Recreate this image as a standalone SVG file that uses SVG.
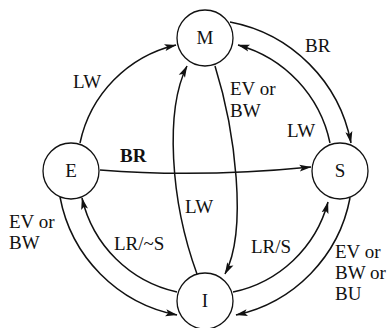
<svg xmlns="http://www.w3.org/2000/svg" width="390" height="328" viewBox="0 0 390 328">
<style>
.e{fill:none;stroke:#111;stroke-width:1.5;marker-end:url(#ah)}
.n circle{fill:#fff;stroke:#111;stroke-width:1.3}
text{font-family:"Liberation Serif","Times New Roman",serif;font-size:19px;fill:#111}
.n text{text-anchor:middle}
.b{font-weight:bold}
</style>
<defs>
<marker id="ah" viewBox="0 0 12 8" refX="11.5" refY="4" markerWidth="12" markerHeight="8" markerUnits="userSpaceOnUse" orient="auto">
<path d="M0,0.5 L12,4 L0,7.5 L2.5,4 Z" fill="#111"/>
</marker>
</defs>
<rect width="390" height="328" fill="#fff"/>
<g id="connectors">
<path class="e" d="M80,143 A128,128 0 0 1 176,45"/>
<path class="e" d="M197,274 C170,200 165,110 187,66"/>
<path class="e" d="M215,66 C235,130 248,230 225,274"/>
<path class="e" d="M230,22 A152,152 0 0 1 351,143"/>
<path class="e" d="M330,143 A129,129 0 0 0 238,45"/>
<path class="e" d="M100,170 Q200,178 311,167"/>
<path class="e" d="M177,292 A125,125 0 0 1 82,198"/>
<path class="e" d="M60,197 A148,148 0 0 0 177,315"/>
<path class="e" d="M233,292 A125,125 0 0 0 328,202"/>
<path class="e" d="M350,198 A148,148 0 0 1 236,315"/>
</g>
<g id="labels">
<text x="73" y="88">LW</text>
<text x="120" y="162" class="b">BR</text>
<text x="230" y="95">EV or</text>
<text x="230" y="117">BW</text>
<text x="305" y="52">BR</text>
<text x="287" y="137">LW</text>
<text x="185" y="213">LW</text>
<text x="9" y="228">EV or</text>
<text x="9" y="249">BW</text>
<text x="114" y="250">LR/~S</text>
<text x="251" y="253">LR/S</text>
<text x="335" y="258">EV or</text>
<text x="335" y="279">BW or</text>
<text x="335" y="300">BU</text>
</g>
<g id="node-M" class="n"><circle cx="205" cy="38" r="28"/><text x="205" y="44">M</text></g>
<g id="node-E" class="n"><circle cx="71" cy="171" r="28"/><text x="71" y="177">E</text></g>
<g id="node-S" class="n"><circle cx="340" cy="171" r="28"/><text x="340" y="177">S</text></g>
<g id="node-I" class="n"><circle cx="205" cy="301" r="28"/><text x="205" y="307">I</text></g>
</svg>
